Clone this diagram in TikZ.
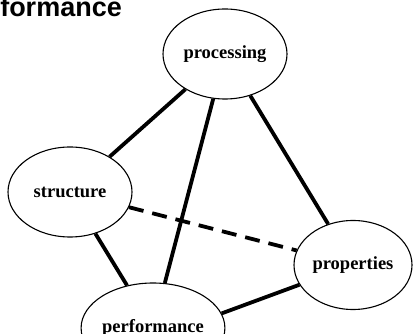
\documentclass[tikz,border=0pt]{standalone}
\usepackage{fontspec}
\setmainfont{Liberation Serif}
\newfontfamily\headfont{Liberation Sans}
\usetikzlibrary{shapes.geometric}

\begin{document}
\begin{tikzpicture}[x=1pt,y=-1pt]
            \tikzstyle{every node}+=[inner sep=0pt]
            \tikzstyle{topic}=[draw, ellipse, line width=1.1pt, font=\fontsize{18.5}{20}\selectfont\bfseries, minimum width=124pt, minimum height=90pt]
            \tikzstyle{link}=[line width=3.8pt]
            \useasboundingbox (0,0) rectangle (413,334);
            \node [anchor=base east, font=\headfont\fontsize{27}{30}\selectfont\bfseries] (title) at (122,17) {formance};
            \node [topic] (processing) at (225,54) {processing};
            \node [topic] (structure) at (70,192) {structure};
            \node [topic, minimum width=118pt, minimum height=89pt] (properties) at (353,265) {properties};
            \node [topic, minimum width=122pt] (performance) at (153,328) {performance};
            \draw [link] (processing) -- (structure);
            \draw [link] (processing) -- (performance);
            \draw [link] (processing) -- (properties);
            \draw [link] (structure) -- (performance);
            \draw [link, dash pattern=on 15pt off 9pt] (structure) -- (properties);
            \draw [link] (performance.12) -- (properties);
\end{tikzpicture}
\end{document}
